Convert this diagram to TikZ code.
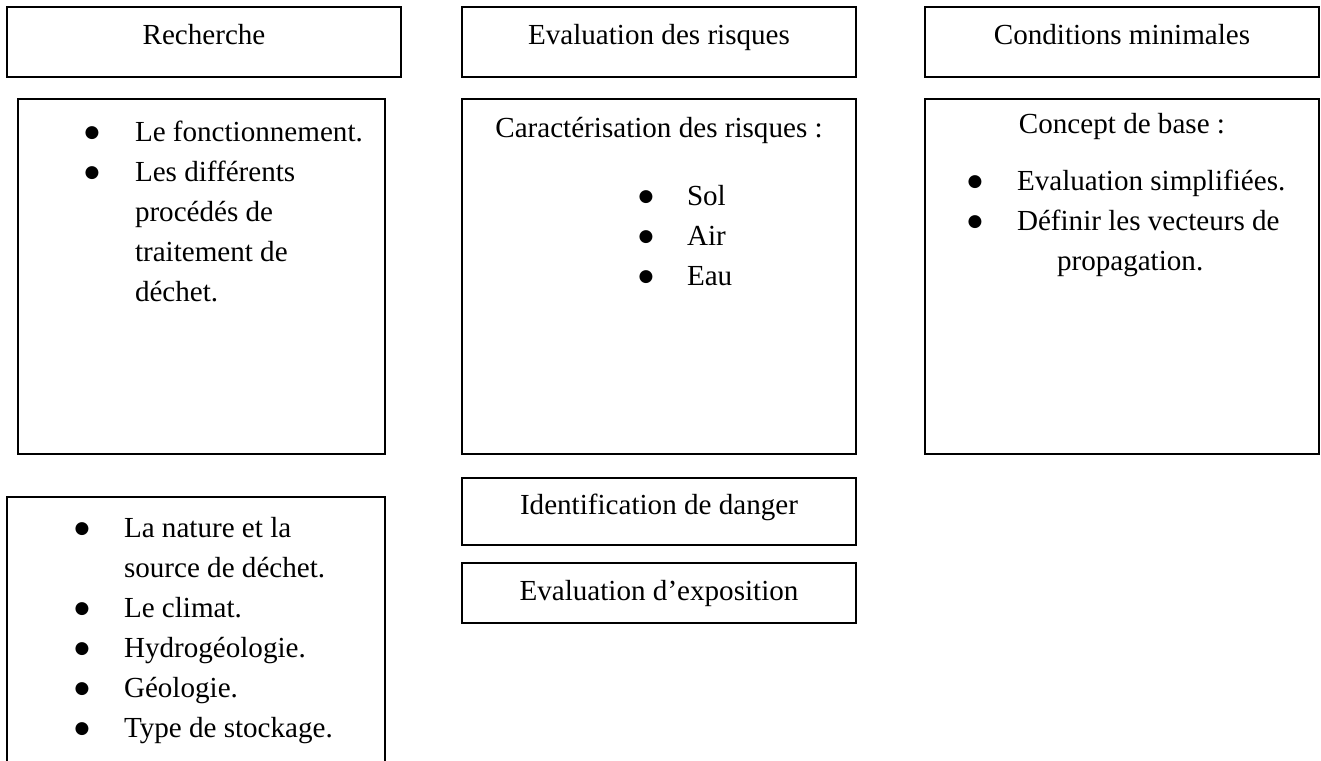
\documentclass[tikz,border=0pt]{standalone}
\usepackage{fontspec}
\setmainfont{Liberation Serif}
\newfontfamily\symFont{DejaVu Sans}
\usepackage{xcolor}
\definecolor{frameDark}{HTML}{000000}
\usepackage{tikz}
\usetikzlibrary{positioning}
\newcommand{\bodyFont}{\fontsize{29.1pt}{40pt}\selectfont}
\newcommand{\bul}{\makebox[10pt]{\raisebox{4pt}{\fontsize{17pt}{17pt}\symFont ●}}}
\tikzset{%
  headBox/.style={%
    rectangle,
    draw=frameDark,
    line width=1.6pt,
    outer sep=0pt,
    inner sep=0pt,
    minimum width=394pt,
    minimum height=70pt,
    text height=20pt,
    text depth=14pt,
    font=\bodyFont
  },
  panelBox/.style={%
    rectangle,
    draw=frameDark,
    line width=1.6pt,
    outer sep=0pt,
    inner sep=0pt
  },
  headText/.style={%
    inner sep=0pt,
    outer sep=0pt,
    text height=28pt,
    text depth=12pt,
    font=\bodyFont
  },
  listText/.style={%
    inner sep=0pt,
    outer sep=0pt,
    font=\bodyFont
  }
}

\begin{document}
\begin{tikzpicture}[node distance=22pt]
  \useasboundingbox (0,0) rectangle (1321pt,-760pt);
  \clip (0,0) rectangle (1321pt,-760pt);

  \node[headBox] (recherche) at (204pt,-42pt) {Recherche};
  \node[headBox, right=61pt of recherche] (evalRisques) {Evaluation des risques};
  \node[headBox, right=69pt of evalRisques] (conditions) {Conditions minimales};

  \node[panelBox, minimum width=367pt, minimum height=355pt, below right=22pt and 11pt of recherche.south west] (rechPanel) {};
  \node[panelBox, minimum width=394pt, minimum height=355pt, below=of evalRisques] (risqPanel) {};
  \node[panelBox, minimum width=394pt, minimum height=355pt, below=of conditions] (condPanel) {};
  \node[panelBox, minimum width=378pt, minimum height=320pt, below right=43pt and -11pt of rechPanel.south west] (sitePanel) {};

  \node[headBox, minimum height=67pt, below=24pt of risqPanel] (danger) {Identification de danger};
  \node[headBox, minimum height=60pt, text depth=6pt, below=18pt of danger] (exposition) {Evaluation d’exposition};

  \node[listText, below right=14pt and 69pt of rechPanel.north west] (rechList) {%
    \begin{tabular}{@{}p{48pt}@{}l@{}}
      \bul & Le fonctionnement.\\
      \bul & Les différents\\
           & procédés de\\
           & traitement de\\
           & déchet.
    \end{tabular}};

  \node[headText, below=10pt of risqPanel.north] (risqHead) {Caractérisation des risques :};
  \node[listText, below right=78pt and 179pt of risqPanel.north west] (risqList) {%
    \begin{tabular}{@{}p{46pt}@{}l@{}}
      \bul & Sol\\
      \bul & Air\\
      \bul & Eau
    \end{tabular}};

  \node[headText, below=6pt of condPanel.north] (condHead) {Concept de base :};
  \node[listText, below right=63pt and 45pt of condPanel.north west] (condList) {%
    \begin{tabular}{@{}p{47pt}@{}l@{}}
      \bul & Evaluation simplifiées.\\
      \bul & Définir les vecteurs de\\
           & \hspace*{40pt}propagation.
    \end{tabular}};

  \node[listText, below right=12pt and 70pt of sitePanel.north west] (siteList) {%
    \begin{tabular}{@{}p{47pt}@{}l@{}}
      \bul & La nature et la\\
           & source de déchet.\\
      \bul & Le climat.\\
      \bul & Hydrogéologie.\\
      \bul & Géologie.\\
      \bul & Type de stockage.
    \end{tabular}};
\end{tikzpicture}
\end{document}
